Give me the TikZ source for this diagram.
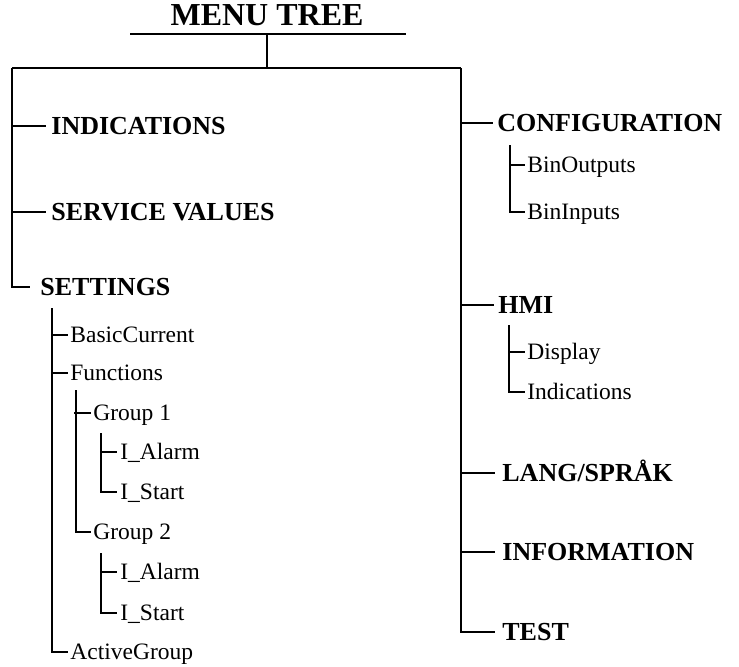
\documentclass[tikz,border=0pt]{standalone}
\usepackage{fontspec}
\setmainfont{Liberation Serif}
\begin{document}
\begin{tikzpicture}[x=0.5pt,y=-0.5pt,
  title/.style={anchor=base,inner sep=0pt,font=\fontsize{16}{18}\selectfont\bfseries},
  menu/.style={anchor=west,inner sep=0pt,text height=8.6pt,text depth=0pt,font=\fontsize{13}{15}\selectfont\bfseries},
  submenu/.style={anchor=west,inner sep=0pt,text height=7.8pt,text depth=0pt,font=\fontsize{11.75}{14}\selectfont},
  branch/.style={line width=1pt}]

  % keep the page as large as the original
  \useasboundingbox (0,0) rectangle (739,666);

  % title, underline and the top bar
  \node[title] (title) at (267,25) {MENU TREE};
  \coordinate (ulL) at (130,34);
  \coordinate (ulR) at (406,34);
  \coordinate (root) at (267,68);
  \coordinate (lt) at (12,68);
  \coordinate (rt) at (461,68);
  \draw[branch] (ulL) -- (ulR);
  \draw[branch] (root |- ulL) -- (root);
  \draw[branch] (lt) -- (rt);

  % left column
  \node[menu] (ind)  at (51,126) {INDICATIONS};
  \node[menu] (serv) at (51,212) {SERVICE VALUES};
  \node[menu] (set)  at (40,287) {SETTINGS};
  \draw[branch] (lt) |- ([xshift=-5pt]set.west);
  \foreach \n in {ind,serv}
    \draw[branch] (lt |- \n.west) -- ([xshift=-2.5pt]\n.west);

  % settings subtree
  \node[submenu] (basic)  at (70,335) {BasicCurrent};
  \node[submenu] (func)   at (70,373) {Functions};
  \node[submenu] (grp1)   at (93,413) {Group 1};
  \node[submenu] (alarm1) at (120,452) {I\_Alarm};
  \node[submenu] (start1) at (120,492) {I\_Start};
  \node[submenu] (grp2)   at (93,532) {Group 2};
  \node[submenu] (alarm2) at (120,572) {I\_Alarm};
  \node[submenu] (start2) at (120,613) {I\_Start};
  \node[submenu] (active) at (70,652) {ActiveGroup};
  \coordinate (s0) at (52,308);
  \coordinate (g0) at (76,390);
  \coordinate (a1) at (101,433);
  \coordinate (a2) at (101,553);
  \draw[branch] (s0) |- ([xshift=-1pt]active.west);
  \foreach \n in {basic,func}
    \draw[branch] (s0 |- \n.west) -- ([xshift=-1pt]\n.west);
  \draw[branch] (g0) |- ([xshift=-1pt]grp2.west);
  \draw[branch] ([xshift=-1pt]g0 |- grp1.west) -- ([xshift=-1pt]grp1.west);
  \draw[branch] (a1) |- ([xshift=-1.5pt]start1.west);
  \draw[branch] (a1 |- alarm1.west) -- ([xshift=-1.5pt]alarm1.west);
  \draw[branch] (a2) |- ([xshift=-1.5pt]start2.west);
  \draw[branch] (a2 |- alarm2.west) -- ([xshift=-1.5pt]alarm2.west);

  % right column
  \node[menu] (conf) at (497,123) {CONFIGURATION};
  \node[menu] (hmi)  at (498,305) {HMI};
  \node[menu] (lang) at (502,473) {LANG/SPRÅK};
  \node[menu] (info) at (502,552) {INFORMATION};
  \node[menu] (test) at (502,632) {TEST};
  \draw[branch] (rt) |- ([xshift=-3.5pt]test.west);
  \foreach \n in {conf,hmi}
    \draw[branch] (rt |- \n.west) -- ([xshift=-2pt]\n.west);
  \foreach \n in {lang,info}
    \draw[branch] (rt |- \n.west) -- ([xshift=-3.5pt]\n.west);

  % configuration and hmi subtrees
  \node[submenu] (binout) at (527,165) {BinOutputs};
  \node[submenu] (binin)  at (527,212) {BinInputs};
  \node[submenu] (disp)   at (527,352) {Display};
  \node[submenu] (hind)   at (527,392) {Indications};
  \coordinate (c0) at (510,145);
  \coordinate (h0) at (509,325);
  \draw[branch] (c0) |- ([xshift=-1pt]binin.west);
  \draw[branch] (c0 |- binout.west) -- ([xshift=-1pt]binout.west);
  \draw[branch] (h0) |- ([xshift=-1pt]hind.west);
  \draw[branch] (h0 |- disp.west) -- ([xshift=-1pt]disp.west);

\end{tikzpicture}
\end{document}
